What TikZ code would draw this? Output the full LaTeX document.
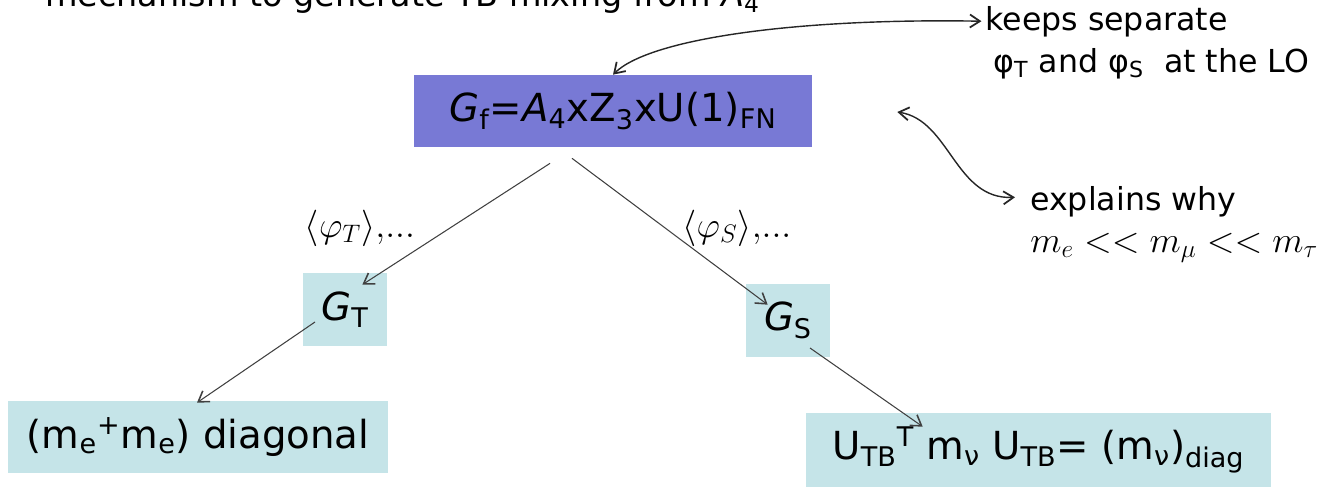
\documentclass[tikz,border=0pt]{standalone}
\usepackage{fontspec}
\setmainfont{DejaVu Sans}
\usetikzlibrary{arrows.meta,calc}
\definecolor{GroupBlue}{RGB}{120,121,213}
\definecolor{SubTeal}{RGB}{197,228,232}
\definecolor{LineGray}{RGB}{64,64,64}
\newcommand{\boxfont}{\fontsize{22}{26}\selectfont}
\tikzset{
  groupbox/.style={fill=GroupBlue,minimum width=7.96cm,minimum height=1.44cm,
    inner sep=0pt,font=\boxfont},
  subbox/.style={fill=SubTeal,inner sep=0pt,font=\boxfont},
  branch/.style={-{Straight Barb[length=2mm,width=2.6mm,line width=0.9pt]},
    line width=0.6pt,draw=LineGray},
  remark/.style={{Straight Barb[length=2mm,width=2.6mm,line width=1pt]}-{Straight Barb[length=2mm,width=2.6mm,line width=1pt]},
    line width=0.8pt,draw=black!85},
  notetext/.style={anchor=base west,inner sep=0pt,font=\fontsize{18}{22}\selectfont},
  vevtext/.style={inner sep=0pt,font=\fontsize{21}{25}\selectfont},
}

\begin{document}
\begin{tikzpicture}[x=0.02cm,y=-0.02cm]
  \useasboundingbox (0,0) rectangle (1342,487);
  \clip (0,0) rectangle (1342,487);
  \node[anchor=base west,inner sep=0pt,font=\fontsize{19}{23}\selectfont] (title) at (45,6)
    {mechanism to generate TB mixing from \textit{A}\textsubscript{4}};
  % symmetry groups
  \node[groupbox] (gf) at (613,111)
    {\textit{G}\textsubscript{f}=\textit{A}\textsubscript{4}xZ\textsubscript{3}xU(1)\textsubscript{FN}};
  \node[subbox,minimum width=1.68cm,minimum height=1.46cm] (gt) at (345,309.5)
    {\textit{G}\textsubscript{T}};
  \node[subbox,minimum width=1.68cm,minimum height=1.46cm] (gs) at (788,320.5)
    {\textit{G}\textsubscript{S}};
  \node[subbox,minimum width=7.6cm,minimum height=1.44cm] (diag) at (198,437)
    {(m\textsubscript{e}\textsuperscript{+}m\textsubscript{e}) diagonal};
  \node[subbox,minimum width=9.3cm,minimum height=1.48cm] (utb) at (1038.5,450)
    {U\textsubscript{TB}\textsuperscript{T} m\textsubscript{ν} U\textsubscript{TB}= (m\textsubscript{ν})\textsubscript{diag}};
  % vevs
  \node[vevtext] (vevT) at (360,228) {${\left\langle\varphi_T\right\rangle}{,}{.}{.}{.}$};
  \node[vevtext] (vevS) at (737,228) {${\left\langle\varphi_S\right\rangle}{,}{.}{.}{.}$};
  \draw[branch] ([shift={(-63,16)}]gf.south) -- ([shift={(-25,12)}]gt.north east);
  \draw[branch] ([shift={(-41,11)}]gf.south) -- ([shift={(22,21)}]gs.north west);
  \draw[branch] ([shift={(-30,12.5)}]gt.center) -- ([shift={(-1,2)}]diag.north);
  \draw[branch] ([shift={(22,27.5)}]gs.center) -- ([shift={(117,14)}]utb.north west);
  % remarks
  \node[notetext] (keeps) at (985,30) {keeps separate};
  \node[notetext] (keepsb) at (993,72) {φ\textsubscript{T} and φ\textsubscript{S}\ \ at the LO};
  \node[notetext] (explain) at (1030,210) {explains why};
  \node[notetext,font=\fontsize{20}{24}\selectfont] (order) at (1030,252)
    {$m_e << m_\mu << m_\tau$};
  \draw[remark,shorten >=2pt] (gf.north) .. controls (650,38) and (800,18) .. (keeps.west);
  \coordinate (why) at ([shift={(85,1)}]gf.east);
  \draw[remark] (why) .. controls (950,120) and (955,200) .. ([shift={(-15,-4)}]explain.west);
\end{tikzpicture}
\end{document}
